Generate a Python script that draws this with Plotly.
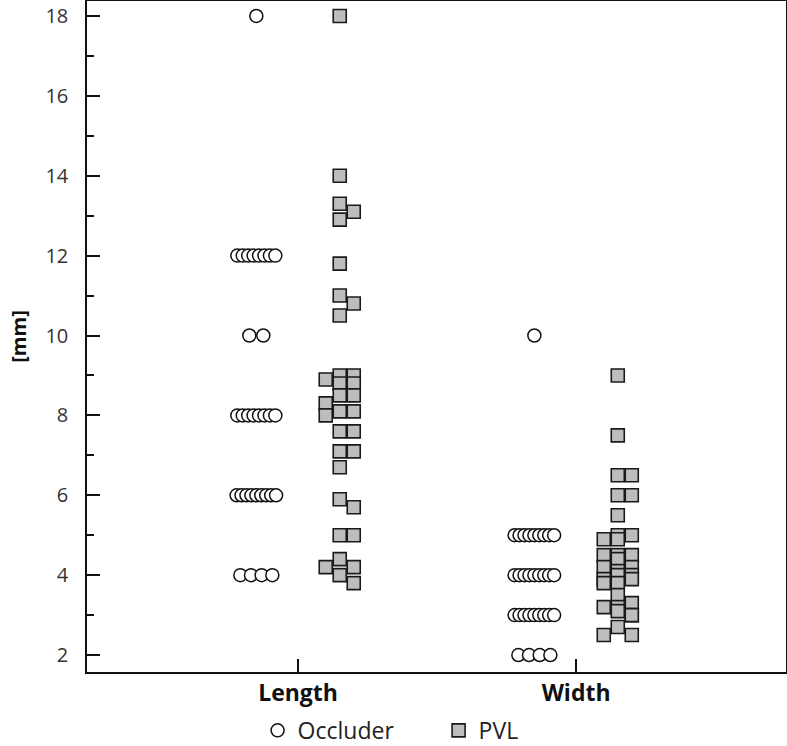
import plotly.graph_objects as go

# ---- data (mm) ----
categories = ["Length", "Width"]

occluder_length = [18] * 1 + [12] * 8 + [10] * 2 + [8] * 8 + [6] * 9 + [4] * 4
occluder_width = [10] * 1 + [5] * 9 + [4] * 9 + [3] * 9 + [2] * 4

pvl_length = [18.0, 14.0, 13.3, 13.1, 12.9, 11.8, 11.0, 10.8, 10.5,
              9.0, 9.0, 8.9, 8.8, 8.8, 8.5, 8.5, 8.3, 8.1, 8.1, 8.0,
              7.6, 7.6, 7.1, 7.1, 6.7, 5.9, 5.7, 5.0, 5.0,
              4.4, 4.2, 4.2, 4.0, 3.8]
pvl_width = [9.0, 7.5, 6.5, 6.5, 6.0, 6.0, 5.5, 5.0, 5.0, 4.9, 4.9,
             4.5, 4.5, 4.5, 4.4, 4.2, 4.2, 4.1, 4.0, 4.0, 3.9, 3.9,
             3.8, 3.8, 3.5, 3.3, 3.2, 3.2, 3.1, 3.0, 3.0, 2.7, 2.5, 2.5]

tick_values = [2, 4, 6, 8, 10, 12, 14, 16, 18]

# ---- layout geometry ----
W, H = 787, 746
ML, MR, MT, MB = 87, 1, 1, 74
XR = [-0.759, 1.755]
YR = [1.575, 18.375]
PX_X = (W - ML - MR) / (XR[1] - XR[0])
PX_Y = (H - MT - MB) / (YR[1] - YR[0])
GROUP_SHIFT = 0.15


def row_offsets(values, center):
    """Points with equal values laid side by side in a row."""
    from collections import Counter
    counts = Counter(values)
    seen = Counter()
    xs = []
    for v in values:
        n = counts[v]
        span = 0 if n == 1 else min(14 * (n - 1), 26 + 1.5 * n)
        step = 0 if n == 1 else span / (n - 1)
        off = -span / 2 + step * seen[v]
        seen[v] += 1
        xs.append(center + off / PX_X)
    return xs


def swarm_offsets(values, center, step=7, thresh=8, kmax=3):
    """Compact beeswarm allowing partial overlap of square markers."""
    order = sorted(range(len(values)), key=lambda i: -values[i])
    placed = []
    xs = [0.0] * len(values)
    cands = [0]
    for k in range(1, kmax + 1):
        cands += [k * step, -k * step]
    for i in order:
        yp = values[i] * PX_Y
        best, best_cost = None, None
        for c in cands:
            cost = sum(1 for px, py in placed if abs(c - px) < thresh and abs(yp - py) < thresh)
            if cost == 0:
                best = c
                break
            if best_cost is None or cost < best_cost:
                best, best_cost = c, cost
        placed.append((best, yp))
        xs[i] = center + best / PX_X
    return xs


occ_x = row_offsets(occluder_length, 0 - GROUP_SHIFT) + row_offsets(occluder_width, 1 - GROUP_SHIFT)
occ_y = occluder_length + occluder_width
pvl_x = swarm_offsets(pvl_length, 0 + GROUP_SHIFT) + swarm_offsets(pvl_width, 1 + GROUP_SHIFT)
pvl_y = pvl_length + pvl_width

FONT = "Open Sans"

fig = go.Figure()
fig.add_trace(go.Scatter(
    x=occ_x, y=occ_y, mode="markers", name="Occluder",
    marker=dict(symbol="circle", size=13, color="white",
                line=dict(color="#111111", width=1.5)),
))
fig.add_trace(go.Scatter(
    x=pvl_x, y=pvl_y, mode="markers", name="PVL",
    marker=dict(symbol="square", size=13, color="#bdbdbd",
                line=dict(color="#1a1a1a", width=1.6)),
))

fig.update_layout(
    width=W, height=H,
    margin=dict(l=ML, r=MR, t=MT, b=MB, pad=0, autoexpand=False),
    paper_bgcolor="white", plot_bgcolor="white",
    font=dict(family=FONT, color="#222222"),
    showlegend=True,
    legend=dict(orientation="h", x=0.503, xanchor="center", y=-0.087, yanchor="middle",
                font=dict(size=23, color="#222222"), entrywidth=136,
                itemclick=False),
    xaxis=dict(range=XR, tickvals=[0, 1], ticktext=categories, automargin=False,
               ticks="inside", ticklen=13, tickwidth=1.5, tickcolor="#111111",
               showgrid=False, zeroline=False,
               showline=True, linecolor="#111111", linewidth=1.5, mirror=True,
               tickfont=dict(size=23, color="#111111", family=FONT, weight="bold")),
    yaxis=dict(range=YR, tickvals=tick_values, automargin=False,
               ticks="inside", ticklen=13, tickwidth=1.5, tickcolor="#111111",
               minor=dict(ticks="inside", ticklen=7, tickwidth=1.5, dtick=1, tick0=1,
                          tickcolor="#111111", showgrid=False),
               showgrid=False, zeroline=False,
               showline=True, linecolor="#111111", linewidth=1.5, mirror=True,
               ticklabelstandoff=13,
               tickfont=dict(size=20, color="#333333", family=FONT),
               title=dict(text="[mm]", standoff=13,
                          font=dict(size=20, color="#111111", family=FONT, weight="bold"))),
)

fig.write_html(
    "out.html",
    config={"displayModeBar": False},
    post_script="document.body.style.margin='0';document.body.style.overflow='hidden';",
)
